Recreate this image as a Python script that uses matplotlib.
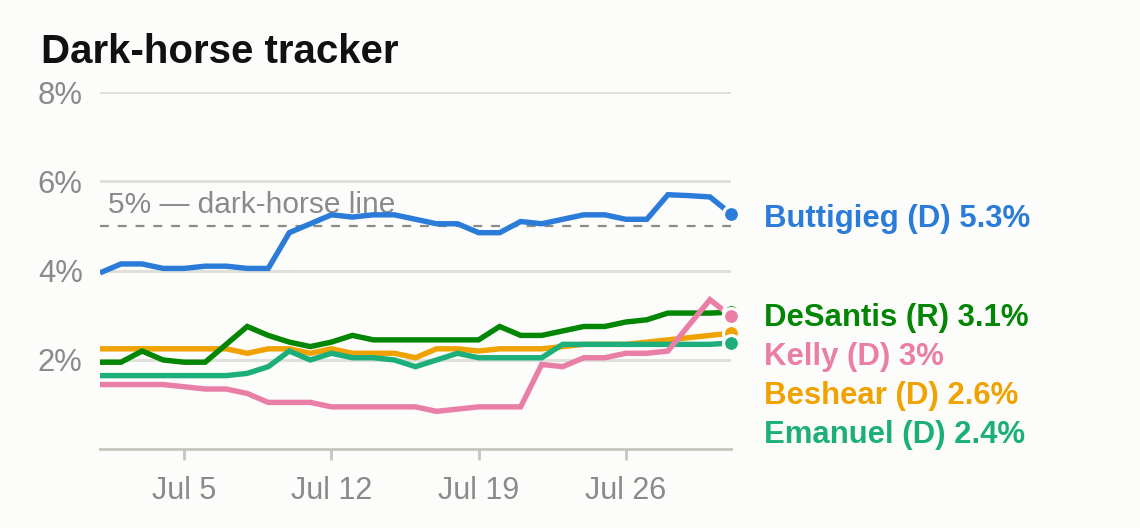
import numpy as np
import pandas as pd
import matplotlib
matplotlib.use("Agg")
import matplotlib.pyplot as plt
import matplotlib.transforms as mtransforms

# ---- data ----
dates = pd.date_range("2025-07-01", "2025-07-31", freq="D")

buttigieg = [3.95, 4.15, 4.15, 4.05, 4.05, 4.1, 4.1, 4.05, 4.05, 4.85,
             5.05, 5.25, 5.2, 5.25, 5.25, 5.15, 5.05, 5.05, 4.85, 4.85,
             5.1, 5.05, 5.15, 5.25, 5.25, 5.15, 5.15, 5.7, 5.68, 5.65, 5.27]
desantis = [1.95, 1.95, 2.2, 2.0, 1.95, 1.95, 2.35, 2.75, 2.55, 2.4,
            2.3, 2.4, 2.55, 2.45, 2.45, 2.45, 2.45, 2.45, 2.45, 2.75,
            2.55, 2.55, 2.65, 2.75, 2.75, 2.85, 2.9, 3.05, 3.05, 3.05, 3.07]
kelly = [1.45, 1.45, 1.45, 1.45, 1.4, 1.35, 1.35, 1.25, 1.05, 1.05,
         1.05, 0.95, 0.95, 0.95, 0.95, 0.95, 0.85, 0.9, 0.95, 0.95,
         0.95, 1.9, 1.85, 2.05, 2.05, 2.15, 2.15, 2.2, 2.78, 3.35, 2.98]
beshear = [2.25, 2.25, 2.25, 2.25, 2.25, 2.25, 2.25, 2.15, 2.25, 2.25,
           2.15, 2.25, 2.15, 2.15, 2.15, 2.05, 2.25, 2.25, 2.2, 2.25,
           2.25, 2.25, 2.3, 2.35, 2.35, 2.35, 2.4, 2.45, 2.5, 2.55, 2.6]
emanuel = [1.65, 1.65, 1.65, 1.65, 1.65, 1.65, 1.65, 1.7, 1.85, 2.2,
           2.0, 2.15, 2.05, 2.05, 2.0, 1.85, 2.0, 2.15, 2.05, 2.05,
           2.05, 2.05, 2.35, 2.35, 2.35, 2.35, 2.35, 2.35, 2.35, 2.35, 2.38]

names = ["Beshear (D)", "DeSantis (R)", "Emanuel (D)", "Kelly (D)", "Buttigieg (D)"]
series = [beshear, desantis, emanuel, kelly, buttigieg]
colors = ["#efa200", "#038603", "#1daf7b", "#e97fa7", "#2b7bd8"]

dark_horse = 5.0
xtick_dates = ["2025-07-05", "2025-07-12", "2025-07-19", "2025-07-26"]
yticks = [2, 4, 6, 8]

# ---- style ----
bg = "#fcfcfa"
grey_txt = "#8a8a8a"
plt.rcParams["font.family"] = ["Liberation Sans", "DejaVu Sans"]

fig = plt.figure(figsize=(11.4, 5.28), dpi=100, facecolor=bg)
ax = fig.add_axes([100 / 1140, 78.7 / 528, 631 / 1140, 357.3 / 528])
ax.set_facecolor(bg)

for v in yticks:
    ax.axhline(v, color="#e0e0db", lw=2.2, zorder=0)

ax.axhline(dark_horse, color="#8a8a86", lw=1.6, ls=(0, (4, 4)), zorder=1)
ax.text(dates[0] + pd.Timedelta(hours=9), 5.28, "5% \u2014 dark-horse line",
        color=grey_txt, fontsize=21.5, va="baseline", ha="left", zorder=1)

for vals, c in zip(series, colors):
    ax.plot(dates, vals, color=c, lw=3.9, solid_joinstyle="miter",
            solid_capstyle="butt", zorder=2)

# end dots, drawn so the lower ones sit on top like the original
dot_order = [1, 0, 2, 3, 4]
for i in dot_order:
    ax.plot(dates[-1], series[i][-1], "o", ms=11.5, color=colors[i], mec=bg,
            mew=2.3, zorder=4, clip_on=False)

# right-hand labels, stacked so they do not overlap
gap = 39 / 44.7
order = sorted(range(len(series)), key=lambda i: -series[i][-1])
label_trans = mtransforms.offset_copy(ax.transData, fig=fig, x=33, y=-2, units="dots")
prev = None
for i in order:
    v = series[i][-1]
    y = v if prev is None else min(v, prev - gap)
    prev = y
    txt = f"{names[i]} {round(v, 1):g}%"
    ax.text(dates[-1], y, txt, color=colors[i], fontsize=22.4, fontweight="bold",
            va="center_baseline", ha="left", transform=label_trans, clip_on=False)

ax.set_xlim(dates[0], dates[-1])
ax.set_ylim(0, 8)

ax.set_yticks(yticks)
ax.set_yticklabels([f"{v}%" for v in yticks])
xt = pd.to_datetime(xtick_dates)
ax.set_xticks(xt)
ax.set_xticklabels([f"{d:%b} {d.day}" for d in xt])

ax.tick_params(axis="y", length=0, pad=12.5, labelsize=22.3, labelcolor=grey_txt)
ax.tick_params(axis="x", length=8, width=2, color="#c6c6be", pad=11,
               labelsize=22, labelcolor=grey_txt)

for s in ["top", "right", "left"]:
    ax.spines[s].set_visible(False)
ax.spines["bottom"].set_color("#c6c6be")
ax.spines["bottom"].set_linewidth(2)

fig.text(41 / 1140, (528 - 63) / 528, "Dark-horse tracker", fontsize=29,
         fontweight="bold", color="#111111", va="baseline", ha="left")

fig.savefig("out.png", dpi=100, facecolor=bg)
